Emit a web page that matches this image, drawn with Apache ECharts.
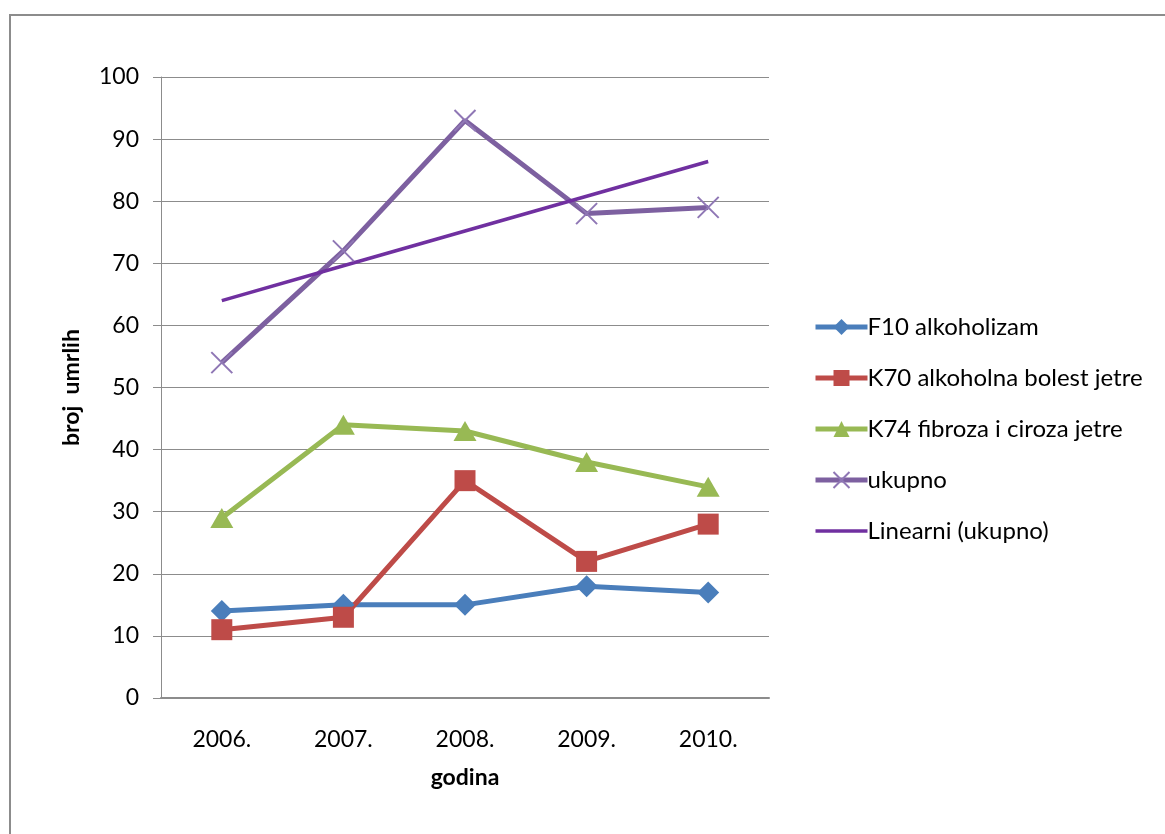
<!DOCTYPE html>
<html>
<head>
<meta charset="utf-8">
<script src="https://cdn.jsdelivr.net/npm/echarts@6/dist/echarts.min.js"></script>
<style>
  html, body { margin: 0; padding: 0; background: #fff; }
  #chart { width: 1165px; height: 834px; }
</style>
</head>
<body>
<div id="chart"></div>
<script>
// Broj umrlih po godinama i dijagnozama
const godine = ['2006.', '2007.', '2008.', '2009.', '2010.'];
const f10 = [14, 15, 15, 18, 17];
const k70 = [11, 13, 35, 22, 28];
const k74 = [29, 44, 43, 38, 34];
const ukupno = [54, 72, 93, 78, 79];
const linearni = [64, 69.6, 75.2, 80.8, 86.4];
const yTicks = { min: 0, max: 100, interval: 10 };

const FONT = 'Lato, "Open Sans", sans-serif';
const crossPath = 'path://M0,0L10,10M10,0L0,10';
const LW = 5;

const chart = echarts.init(document.getElementById('chart'), null, { renderer: 'canvas' });

chart.setOption({
  animation: false,
  backgroundColor: '#fff',
  graphic: [{
    type: 'rect',
    shape: { x: 10, y: 15, width: 1170, height: 840 },
    style: { fill: 'none', stroke: '#8c8c8c', lineWidth: 2 },
    silent: true
  }],
  grid: { left: 161, right: 396, top: 77, bottom: 136 },
  legend: {
    orient: 'vertical',
    left: 808,
    top: 310,
    itemWidth: 52,
    itemHeight: 20,
    itemGap: 27,
    textStyle: { fontFamily: FONT, fontSize: 24, color: '#000', padding: [0, 0, 0, -5] },
    data: [
      { name: 'F10 alkoholizam', lineStyle: { width: LW } },
      { name: 'K70 alkoholna bolest jetre', lineStyle: { width: LW } },
      { name: 'K74 fibroza i ciroza jetre', lineStyle: { width: LW } },
      { name: 'ukupno', lineStyle: { width: LW } },
      { name: 'Linearni (ukupno)', icon: 'path://M0,0H52V3.5H0Z', itemStyle: { color: '#7030a0' } }
    ]
  },
  xAxis: {
    type: 'category',
    data: godine,
    boundaryGap: true,
    name: 'godina',
    nameLocation: 'middle',
    nameGap: 68,
    nameTextStyle: { fontFamily: FONT, fontSize: 23, fontWeight: 'bold', color: '#000' },
    axisLine: { lineStyle: { color: '#8c8c8c', width: 2 } },
    axisTick: { show: false },
    axisLabel: { fontFamily: FONT, fontSize: 23, color: '#000', margin: 30 }
  },
  yAxis: {
    type: 'value',
    min: yTicks.min,
    max: yTicks.max,
    interval: yTicks.interval,
    name: 'broj  umrlih',
    nameLocation: 'middle',
    nameGap: 78,
    nameTextStyle: { fontFamily: FONT, fontSize: 23, fontWeight: 'bold', color: '#000' },
    axisLine: { show: true, lineStyle: { color: '#8c8c8c', width: 1 } },
    axisTick: { show: true, length: 8, lineStyle: { color: '#8c8c8c' } },
    axisLabel: { fontFamily: FONT, fontSize: 23, color: '#000', margin: 22 },
    splitLine: { lineStyle: { color: '#8c8c8c', width: 1 } }
  },
  series: [
    {
      name: 'F10 alkoholizam', type: 'line', data: f10,
      symbol: 'diamond', symbolSize: [22, 22],
      lineStyle: { color: '#4a7ebb', width: LW },
      itemStyle: { color: '#4a7ebb' }
    },
    {
      name: 'K70 alkoholna bolest jetre', type: 'line', data: k70,
      symbol: 'rect', symbolSize: 21,
      lineStyle: { color: '#be4b48', width: LW },
      itemStyle: { color: '#be4b48' }
    },
    {
      name: 'K74 fibroza i ciroza jetre', type: 'line', data: k74,
      symbol: 'triangle', symbolSize: [23, 20],
      lineStyle: { color: '#98b954', width: LW },
      itemStyle: { color: '#98b954' }
    },
    {
      name: 'ukupno', type: 'line', data: ukupno,
      symbol: crossPath, symbolSize: 21,
      lineStyle: { color: '#7d60a0', width: LW },
      itemStyle: { color: 'rgba(0,0,0,0)', borderColor: '#8f77b5', borderWidth: 2 }
    },
    {
      name: 'Linearni (ukupno)', type: 'line', data: linearni,
      symbol: 'none',
      lineStyle: { color: '#7030a0', width: 3.5 },
      itemStyle: { color: '#7030a0' }
    }
  ]
});
</script>
</body>
</html>
